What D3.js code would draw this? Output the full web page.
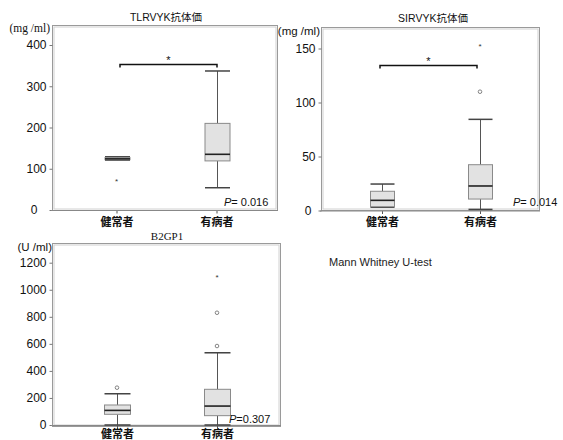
<!DOCTYPE html>
<html><head><meta charset="utf-8">
<script src="https://cdn.jsdelivr.net/npm/d3@7"></script>
<style>
body{margin:0;background:#fff;}
svg{display:block;}
</style></head>
<body>
<svg id="c" width="563" height="440"></svg>
<script>
const categories = ["健常者", "有病者"];

// five-number summaries [min, q1, median, q3, max] per category
const tlrvykBoxes = [[121, 122, 124, 127, 129], [54, 119, 135, 210, 337]];
const tlrvykOutliers = [[0, 72, "star"]];
const tlrvykTicks = [0, 100, 200, 300, 400];

const sirvykBoxes = [[3, 3.5, 9.4, 17.8, 24.5], [1, 10.6, 22.7, 42.4, 84.4]];
const sirvykOutliers = [[1, 110, "circle"], [1, 152.6, "star"]];
const sirvykTicks = [0, 50, 100, 150];

const b2gp1Boxes = [[0, 79, 108, 148, 231], [0, 69, 140, 264, 534]];
const b2gp1Outliers = [[0, 276, "circle"], [1, 584, "circle"], [1, 830, "circle"], [1, 1101, "star"]];
const b2gp1Ticks = [0, 200, 400, 600, 800, 1000, 1200];

const titles = ["TLRVYK抗体価", "SIRVYK抗体価", "B2GP1"];
const units = ["(mg /ml)", "(mg /ml)", "(U /ml)"];
const pValues = ["= 0.016", "= 0.014", "=0.307"];
const testNote = "Mann Whitney U-test";

const svg = d3.select("#c");
const SANS = "'Liberation Sans', Arial, 'Noto Sans CJK JP', sans-serif";
const CJK = "'Noto Sans CJK JP', sans-serif";
const SERIF = "'Liberation Serif', 'DejaVu Serif', serif";

function panel(cfg) {
  const g = svg.append("g");
  const y = d3.scaleLinear().domain(cfg.domain).range(cfg.yRange);
  const x = d3.scaleBand().domain(categories).range(cfg.xRange);
  const cx = c => x(c) + x.bandwidth() / 2;
  const f = cfg.frame;
  // double frame
  g.append("rect").attr("x", f[0] + 0.5).attr("y", f[1] + 0.5).attr("width", f[2] - f[0]).attr("height", f[3] - f[1])
    .attr("fill", "none").attr("stroke", "#9a9a9a").attr("stroke-width", 1);
  g.append("rect").attr("x", f[0] + 2).attr("y", f[1] + 2).attr("width", f[2] - f[0] - 3).attr("height", f[3] - f[1] - 3)
    .attr("fill", "none").attr("stroke", "#d0d0d0").attr("stroke-width", 1);
  // title
  g.append("text").attr("x", cfg.titleX).attr("y", cfg.titleY).attr("text-anchor", "middle")
    .attr("font-family", cfg.titleSerif ? SERIF : SANS).attr("font-size", cfg.titleSize || 10.5).attr("fill", "#111").text(cfg.title);
  // unit
  g.append("text").attr("x", cfg.unitX).attr("y", cfg.unitY).attr("text-anchor", "end")
    .attr("font-family", cfg.unitSerif ? SERIF : SANS).attr("font-size", cfg.unitSize).attr("fill", "#111").text(cfg.unit);
  // y axis
  const ya = g.append("g").attr("transform", `translate(${f[0] + 0.5},0)`)
    .call(d3.axisLeft(y).tickValues(cfg.ticks).tickSize(3).tickPadding(3).tickFormat(d3.format("d")));
  ya.select(".domain").remove();
  ya.selectAll("line").attr("stroke", "#777");
  ya.selectAll("text").attr("font-family", SANS).attr("font-size", 12).attr("fill", "#111")
    .attr("dx", d => d === 0 ? cfg.zeroShift : 0);
  // x axis line
  const xa = g.append("g").attr("transform", `translate(0,${y(0) + 0.5})`)
    .call(d3.axisBottom(d3.scalePoint().domain(categories).range([cx(categories[0]), cx(categories[1])]))
      .tickSize(3).tickPadding(4));
  xa.select(".domain").remove();
  xa.selectAll("line").attr("stroke", "#555");
  xa.selectAll("text").attr("font-family", CJK).attr("font-size", 11).attr("font-weight", 700).attr("fill", "#111")
    .attr("dy", cfg.catDy);
  g.append("line").attr("x1", f[0] - 1).attr("x2", f[2] + 1).attr("y1", y(0) + 0.5).attr("y2", y(0) + 0.5)
    .attr("stroke", "#888").attr("stroke-width", 1);
  // boxes
  const bw = cfg.boxW;
  cfg.boxes.forEach((b, i) => {
    const c = Math.round(cx(categories[i])) + 0.5;
    const [mn, q1, md, q3, mx] = b;
    g.append("line").attr("x1", c).attr("x2", c).attr("y1", y(mx)).attr("y2", y(q3)).attr("stroke", "#555");
    g.append("line").attr("x1", c).attr("x2", c).attr("y1", y(q1)).attr("y2", y(mn)).attr("stroke", "#555");
    g.append("line").attr("x1", c - bw / 2).attr("x2", c + bw / 2).attr("y1", y(mx)).attr("y2", y(mx)).attr("stroke", "#444").attr("stroke-width", 1.5);
    g.append("line").attr("x1", c - bw / 2).attr("x2", c + bw / 2).attr("y1", y(mn)).attr("y2", y(mn)).attr("stroke", "#444").attr("stroke-width", 1.5);
    g.append("rect").attr("x", c - bw / 2).attr("y", y(q3)).attr("width", bw).attr("height", Math.max(1, y(q1) - y(q3)))
      .attr("fill", "#e2e2e2").attr("stroke", "#8a8a8a").attr("stroke-width", 1);
    g.append("line").attr("x1", c - bw / 2).attr("x2", c + bw / 2).attr("y1", y(md)).attr("y2", y(md)).attr("stroke", "#222").attr("stroke-width", 1.6);
  });
  // outliers
  cfg.outliers.forEach(o => {
    const c = cx(categories[o[0]]);
    if (o[2] === "circle") {
      g.append("circle").attr("cx", c).attr("cy", y(o[1])).attr("r", 1.8).attr("fill", "none").attr("stroke", "#777").attr("stroke-width", 0.9);
    } else {
      g.append("text").attr("x", c).attr("y", y(o[1]) + 3.5).attr("text-anchor", "middle").attr("font-family", SANS)
        .attr("font-size", 8).attr("fill", "#333").text("*");
    }
  });
  // significance bracket
  if (cfg.sig) {
    const [x1, x2, v] = cfg.sig;
    const yy = Math.round(y(v)) + 0.5;
    g.append("path").attr("d", `M${x1},${yy + 3}V${yy}H${x2}V${yy + 3}`).attr("fill", "none").attr("stroke", "#111").attr("stroke-width", 1.5);
    g.append("text").attr("x", (x1 + x2) / 2).attr("y", yy - 1).attr("text-anchor", "middle").attr("font-family", SANS)
      .attr("font-size", 11).attr("fill", "#111").text("*");
  }
  // p value
  const pt = g.append("text").attr("x", cfg.pX).attr("y", cfg.pY).attr("font-family", SANS).attr("font-size", 11).attr("fill", "#111");
  pt.append("tspan").attr("font-style", "italic").text("P");
  pt.append("tspan").text(cfg.p);
}

panel({
  title: titles[0], titleX: 166, titleY: 21, unit: units[0], unitX: 50, unitY: 32, unitSerif: true, unitSize: 11.5,
  domain: [0, 400], yRange: [210, 45], xRange: [66.5, 266.5], frame: [52, 25, 277, 210],
  ticks: tlrvykTicks, zeroShift: -9, boxes: tlrvykBoxes, outliers: tlrvykOutliers, boxW: 25,
  sig: [120, 217, 353], p: pValues[0], pX: 224, pY: 206, catDy: 8
});
panel({
  title: titles[1], titleX: 433, titleY: 22, unit: units[1], unitX: 320, unitY: 35, unitSize: 11.5,
  domain: [0, 150], yRange: [210.5, 48.5], xRange: [333, 529], frame: [321, 27, 539, 210],
  ticks: sirvykTicks, zeroShift: -4, boxes: sirvykBoxes, outliers: sirvykOutliers, boxW: 24,
  sig: [380, 477, 134.7], p: pValues[1], pX: 513, pY: 206, catDy: 8
});
panel({
  title: titles[2], titleX: 167, titleY: 240, titleSerif: true, titleSize: 11, unit: units[2], unitX: 52, unitY: 251, unitSize: 11.5,
  domain: [0, 1200], yRange: [425, 262.7], xRange: [67, 267], frame: [52, 243, 280, 426],
  ticks: b2gp1Ticks, zeroShift: 0, boxes: b2gp1Boxes, outliers: b2gp1Outliers, boxW: 26,
  sig: null, p: pValues[2], pX: 229, pY: 423, catDy: 5
});

svg.append("text").attr("x", 329).attr("y", 266).attr("font-family", SANS).attr("font-size", 11).attr("fill", "#222").text(testNote);
</script>
</body></html>
